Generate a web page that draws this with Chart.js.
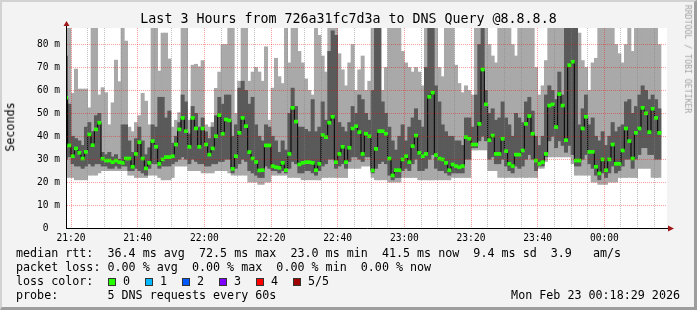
<!DOCTYPE html>
<html>
<head>
<meta charset="utf-8">
<title>Last 3 Hours from 726a31fc7d3a to DNS Query @8.8.8.8</title>
<script src="https://cdn.jsdelivr.net/npm/chart.js@4.4.1/dist/chart.umd.min.js"></script>
<style>
  html, body { margin: 0; padding: 0; background: #f3f3f3; }
  #wrap { position: relative; width: 697px; height: 310px; overflow: hidden; background: #f3f3f3; }
  #wrap canvas { position: absolute; left: 0; top: 0; }
  #frame { position: absolute; left: 0; top: 0; width: 697px; height: 310px; box-sizing: border-box; pointer-events: none;
    border-top: 2px solid #d2d2d2; border-left: 2px solid #d2d2d2; border-right: 3px solid #9d9d9d; border-bottom: 3px solid #9d9d9d; }
  .txt { position: absolute; font-family: 'DejaVu Sans Mono', monospace; white-space: pre; color: #000; line-height: 1; }
  .leg { font-size: 11.7px; left: 16px; }
  .box { position: absolute; top: 278px; width: 6px; height: 6px; border: 1px solid #333; }
</style>
</head>
<body>
<div id="wrap">
  <canvas id="smoke" width="697" height="310"></canvas>
  <div class="txt" style="left:0;width:697px;text-align:center;top:12px;font-size:13.3px;">Last 3 Hours from 726a31fc7d3a to DNS Query @8.8.8.8</div>
  <div class="txt" style="left:11px;top:127px;font-size:11.7px;transform:translate(-50%,-50%) rotate(-90deg);">Seconds</div>
  <div class="txt" style="left:688px;top:59px;font-size:8.2px;color:#a3a3a3;transform:translate(-50%,-50%) rotate(90deg);">RRDTOOL / TOBI OETIKER</div>
  <div class="txt leg" style="top:248.4px;">median rtt:  36.4 ms avg  72.5 ms max  23.0 ms min  41.5 ms now  9.4 ms sd  3.9   am/s</div>
  <div class="txt leg" style="top:262.4px;">packet loss: 0.00 % avg  0.00 % max  0.00 % min  0.00 % now</div>
  <div class="txt leg" style="top:276.1px;">loss color:</div>
  <div id="lossKeys"></div>
  <div class="txt leg" style="top:290.1px;">probe:       5 DNS requests every 60s</div>
  <div class="txt" style="right:17px;top:290.1px;font-size:11.7px;">Mon Feb 23 00:18:29 2026</div>
  <div id="frame"></div>
</div>
<script>
// one slot per minute; first slot centre is 1.5 min before 21:20
const SLOT_START_MIN = -1.5;

const MIN_RTT = [
  22,22,22,21,21,21,21,23,23,23, 24,25,25,25,25,25,25,25,25,23,
  23,22,22,22,22,23,23,23,22,21, 21,21,22,27,27,27,27,25,25,25,
  25,24,24,24,24,25,25,25,25,24, 23,23,23,23,23,20,20,20,19,19,
  20,20,23,23,23,23,23,22,22,22, 22,21,21,21,21,21,21,22,22,22,
  22,22,22,22,22,26,26,26,26,27, 27,27,22,21,21,21,21,20,20,20,
  20,22,22,22,22,22,21,21,21,21, 21,21,21,21,21,21,22,22,22,22,
  22,22,34,34,34,34,34,25,25,25, 22,22,22,22,22,22,22,22,22,22,
  22,22,26,26,29,31,31,31,31,31, 31,31,28,23,23,23,23,23,20,20,
  19,19,19,20,20,20,22,22,22,22, 22,22,26,26,26,26,22,22,22
];
const Q1_RTT = [
  30,31,28,27,27,26,27,28,27,28, 28,27,27,26,26,27,26,27,27,25,
  25,26,25,24,23,26,28,28,26,27, 27,27,28,29,30,31,30,28,30,29,
  28,28,27,27,28,28,29,29,30,30, 24,26,28,30,29,25,24,23,22,22,
  27,26,25,25,24,25,24,26,29,28, 24,24,25,25,24,23,25,27,28,30,
  30,26,27,28,26,29,31,31,30,29, 31,31,24,26,28,29,28,23,21,22,
  22,25,26,25,28,30,25,25,26,30, 32,26,25,25,24,23,24,24,24,24,
  30,30,35,35,38,40,38,30,31,28, 28,30,27,25,24,27,26,27,30,32,
  30,25,27,27,31,38,40,35,38,36, 33,36,32,27,27,30,32,28,26,23,
  21,24,22,24,27,24,25,27,30,30, 26,30,32,35,35,32,32,30,30
];
const MEDIAN_RTT = [
  56.8,36.0,31.3,34.7,32.8,30.3,33.2,40.8,36.1,43.0, 45.9,30.2,29.4,29.4,28.7,29.4,28.7,28.4,30.3,30.3,
  26.7,32.3,37.4,30.3,26.0,28.4,37.9,35.4,28.0,29.9, 30.9,30.9,31.3,36.4,43.0,48.0,42.2,35.4,48.0,43.4,
  35.4,43.4,36.4,32.0,34.7,40.0,49.2,41.1,47.3,46.9, 25.8,31.3,41.5,48.0,44.4,33.1,30.3,28.8,25.1,25.2,
  36.0,36.0,27.0,26.5,26.2,28.4,25.2,32.3,52.4,46.4, 27.7,28.4,28.7,28.7,28.4,25.2,28.0,40.5,39.6,45.9,
  48.5,28.7,32.3,35.4,28.7,35.0,43.4,44.4,41.8,32.3, 41.1,40.0,25.1,34.5,42.2,42.2,41.1,30.3,22.9,25.2,
  25.2,29.9,31.3,28.7,35.7,40.3,32.8,31.3,32.3,57.2, 59.0,31.8,30.3,29.9,28.4,25.2,27.7,27.0,26.5,27.0,
  39.6,38.9,36.4,36.4,45.4,69.1,53.9,38.3,40.3,32.3, 32.3,38.9,33.5,28.0,27.0,32.0,32.0,33.8,45.4,48.8,
  41.1,29.4,28.0,28.7,32.3,53.4,53.9,44.0,58.4,53.4, 38.3,71.0,72.5,29.4,29.4,43.4,48.5,33.2,33.2,26.7,
  23.8,29.9,25.2,29.9,36.4,28.0,28.0,33.8,43.4,37.9, 30.3,41.5,43.4,52.4,50.0,41.8,52.0,48.0,41.5
];
const Q3_RTT = [
  75,54,40,39,38,36,44,46,42,49, 50,33,32,33,31,32,30,45,45,38,
  33,39,44,38,32,35,45,44,57,57, 48,51,37,40,46,58,55,41,53,50,
  44,48,42,39,44,49,57,54,58,58, 40,45,61,64,60,54,57,45,40,38,
  45,44,40,38,33,38,34,50,61,53, 44,44,43,42,56,42,44,55,47,77,
  86,84,46,44,42,46,53,50,58,56, 50,47,60,95,95,55,50,44,38,34,
  40,45,38,44,48,52,47,44,70,95, 95,62,55,45,42,40,40,38,38,36,
  48,48,44,58,80,95,60,50,52,47, 48,55,48,45,40,50,48,46,55,57,
  51,40,36,40,58,62,60,56,68,58, 95,95,95,95,45,52,58,45,48,40,
  38,42,36,40,46,42,44,45,55,56, 50,53,58,62,60,56,58,56,52
];
const MAX_RTT = [
  95,95,58.7,69.3,60.6,60.6,60.6,52.4,95,95, 58,61.2,59,45,54.6,73.2,63.8,95,81.5,44,
  42,46,49,58.7,55.3,45,95,95,68.4,85, 85,73.7,44,47,50.3,95,95,47,71,71.4,
  70.3,73,45,44,46,60.9,68,80,80,95, 95,50,64,95,95,64,68,70,68,64,
  79,47,61,74,66,63,95,72,95,95, 77,72,65,60,58,95,84,75,68,95,
  95,95,76,69,62,72,80,60,69,75, 60,64,95,95,95,60,70,95,95,95,
  95,77,72,70,68,70,68,62,95,95, 95,95,70,66,95,95,95,71,63,59,
  62,60,58,95,95,95,95,80,75,72, 95,95,95,95,80,75,95,95,95,95,
  95,70,58,62,73,95,95,95,95,95, 95,95,95,95,85,73,70,60,72,74,
  95,95,95,95,95,80,76,72,80,95, 77,95,95,95,95,95,95,95,80
];

// time axis ticks (minutes after 21:20)
const X_LABEL_AT = [0, 20, 40, 60, 80, 100, 120, 140, 160];
const X_LABELS = ['21:20', '21:40', '22:00', '22:20', '22:40', '23:00', '23:20', '23:40', '00:00'];
const Y_LABEL_AT = [0, 10, 20, 30, 40, 50, 60, 70, 80];
const Y_LABELS = ['0  ', '10 m', '20 m', '30 m', '40 m', '50 m', '60 m', '70 m', '80 m'];

const LOSS_LABELS = ['0', '1', '2', '3', '4', '5/5'];
const LOSS_COLORS = ['#26ff00', '#00b8ff', '#0059ff', '#7e00ff', '#ff0000', '#a10000'];

const MONO = 'DejaVu Sans Mono';
const GRID_MAJOR = 'rgba(255,0,0,0.38)';
const GRID_MINOR = 'rgba(130,130,130,0.5)';

// loss colour keys
const keys = document.getElementById('lossKeys');
LOSS_LABELS.forEach((lab, k) => {
  const b = document.createElement('div');
  b.className = 'box';
  b.style.left = (108 + 37 * k) + 'px';
  b.style.background = LOSS_COLORS[k];
  keys.appendChild(b);
  const t = document.createElement('div');
  t.className = 'txt';
  t.style.cssText = 'left:' + (123 + 37 * k) + 'px;top:276.1px;font-size:11.7px;';
  t.textContent = lab;
  keys.appendChild(t);
});

const slotX = i => SLOT_START_MIN + i;
const ranges = (lo, hi) => lo.map((v, i) => ({ x: slotX(i), y: [v, hi[i]] }));

const plotBg = {
  id: 'plotBg',
  beforeDraw(chart) {
    const { ctx, chartArea: a } = chart;
    ctx.save();
    ctx.fillStyle = '#ffffff';
    ctx.fillRect(a.left, a.top, a.right - a.left, a.bottom - a.top);
    ctx.restore();
  }
};

// rrdtool style axes with arrow heads
const axes = {
  id: 'axes',
  afterDraw(chart) {
    const { ctx, chartArea: a } = chart;
    ctx.save();
    ctx.strokeStyle = '#000';
    ctx.lineWidth = 1;
    ctx.beginPath();
    ctx.moveTo(a.left - 1, a.bottom + 0.5);
    ctx.lineTo(a.right + 2, a.bottom + 0.5);
    ctx.moveTo(a.left - 0.5, a.bottom + 1);
    ctx.lineTo(a.left - 0.5, a.top - 2);
    ctx.stroke();
    ctx.fillStyle = '#a01818';
    ctx.beginPath();
    ctx.moveTo(a.left - 0.5, a.top - 7);
    ctx.lineTo(a.left - 3.5, a.top - 2);
    ctx.lineTo(a.left + 2.5, a.top - 2);
    ctx.closePath();
    ctx.fill();
    ctx.beginPath();
    ctx.moveTo(a.right + 7, a.bottom + 0.5);
    ctx.lineTo(a.right + 1, a.bottom - 2.5);
    ctx.lineTo(a.right + 1, a.bottom + 3.5);
    ctx.closePath();
    ctx.fill();
    ctx.restore();
  }
};

new Chart(document.getElementById('smoke'), {
  type: 'bar',
  data: {
    datasets: [
      { label: 'median', data: MEDIAN_RTT.map((m, i) => ({ x: slotX(i), y: [m - 0.65, m + 0.65] })),
        backgroundColor: LOSS_COLORS[0], order: 0 },
      { type: 'line', label: 'median step', data: MEDIAN_RTT.map((m, i) => ({ x: slotX(i), y: m })),
        borderColor: '#000', borderWidth: 1, stepped: 'middle', pointRadius: 0, order: 1 },
      { label: 'inner smoke', data: ranges(Q1_RTT, Q3_RTT), backgroundColor: '#5a5a5a', order: 2 },
      { label: 'outer smoke', data: ranges(MIN_RTT, MAX_RTT), backgroundColor: '#a9a9a9', order: 3 }
    ]
  },
  options: {
    responsive: false,
    animation: false,
    events: [],
    layout: { padding: { top: 28, right: 30, left: 0, bottom: 0 } },
    datasets: { bar: { barPercentage: 1, categoryPercentage: 1, borderWidth: 0, grouped: false } },
    plugins: { legend: { display: false }, tooltip: { enabled: false } },
    scales: {
      x: {
        type: 'linear', min: -1.2, max: 178.8, offset: false,
        afterFit: s => { s.height = 82; },
        afterBuildTicks: s => {
          const t = [];
          for (let v = 0; v <= 175; v += 5) t.push({ value: v });
          s.ticks = t;
        },
        grid: { z: 1, offset: false, drawTicks: false, color: c => (c.tick && c.tick.value % 20 === 0) ? GRID_MAJOR : GRID_MINOR },
        border: { display: false, dash: [1, 1] },
        ticks: {
          autoSkip: false, maxRotation: 0, padding: 5, color: '#000', font: { family: MONO, size: 9.6 },
          callback: v => { const k = X_LABEL_AT.indexOf(v); return k < 0 ? '' : X_LABELS[k]; }
        }
      },
      y: {
        min: 0, max: 87.2,
        afterFit: s => { s.width = 67; },
        afterBuildTicks: s => {
          const t = [];
          for (let v = 0; v <= 85; v += 5) t.push({ value: v });
          s.ticks = t;
        },
        grid: { z: 1, drawTicks: false, color: c => (c.tick && c.tick.value % 10 === 0) ? GRID_MAJOR : GRID_MINOR },
        border: { display: false, dash: [1, 1] },
        ticks: {
          padding: 7, color: '#000', font: { family: MONO, size: 9.6 },
          callback: v => { const k = Y_LABEL_AT.indexOf(v); return k < 0 ? '' : Y_LABELS[k]; }
        }
      }
    }
  },
  plugins: [plotBg, axes]
});
</script>
</body>
</html>
